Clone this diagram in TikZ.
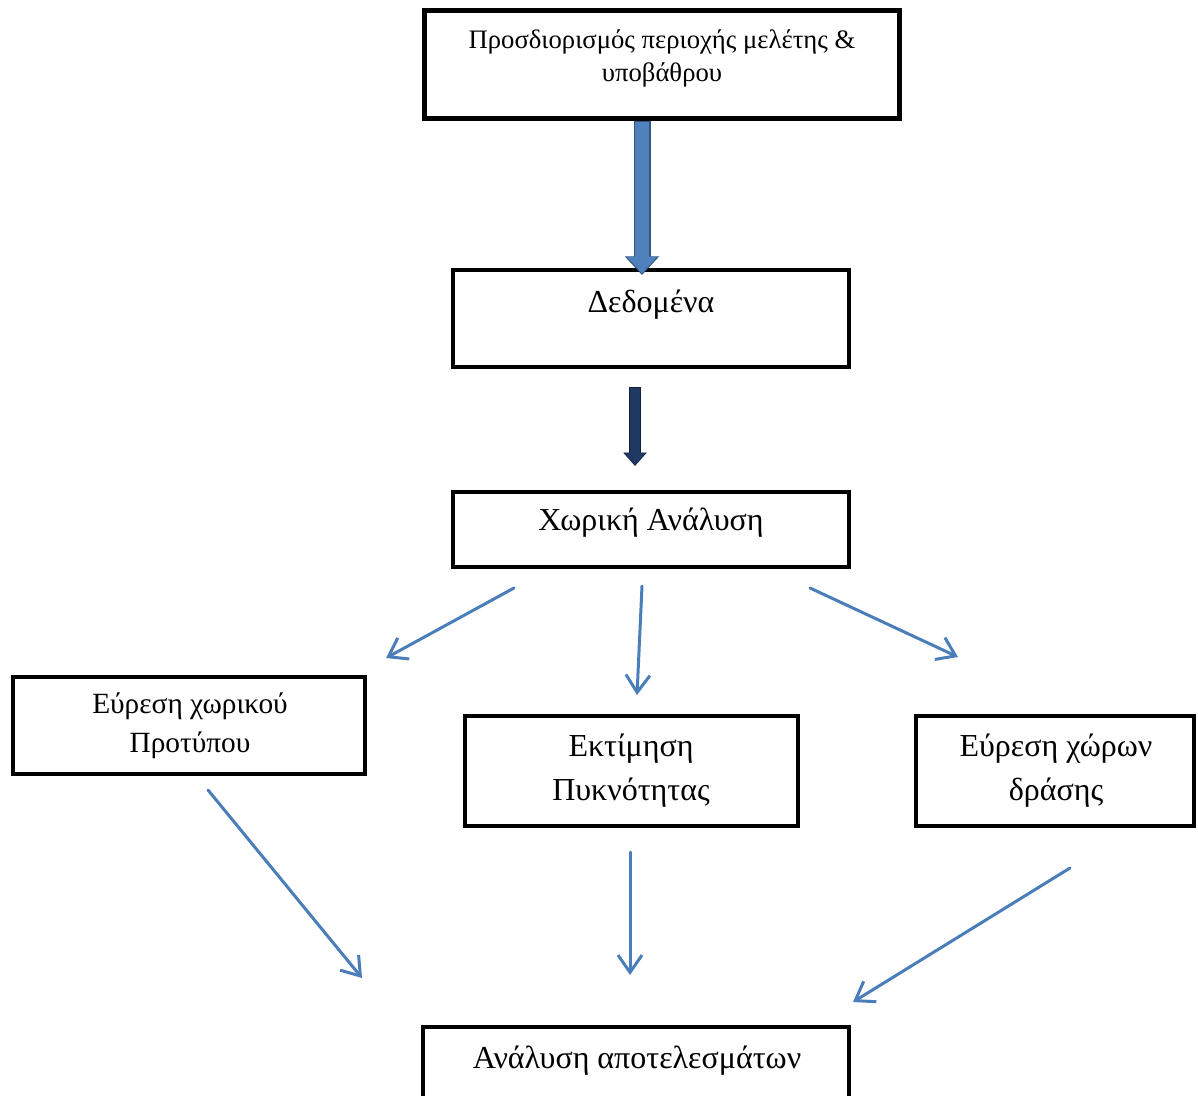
\documentclass[tikz,border=0pt]{standalone}
\usepackage{fontspec}
\setmainfont{Liberation Serif}
\usetikzlibrary{arrows.meta}
\definecolor{thinblue}{RGB}{74,126,187}
\definecolor{fatblue}{RGB}{79,129,189}
\definecolor{fatborder}{RGB}{50,85,130}
\definecolor{navy}{RGB}{31,56,100}
\definecolor{navyborder}{RGB}{18,34,62}
\begin{document}
\begin{tikzpicture}[x=0.75pt,y=-0.75pt,
  box/.style={draw=black, line width=3pt, inner sep=0pt, fill=white},
  txt/.style={align=center, inner sep=0pt, font=\fontsize{24}{31}\selectfont},
  smalltxt/.style={align=center, inner sep=0pt, font=\fontsize{20}{24.75}\selectfont},
  thin/.style={draw=thinblue, line width=2.25pt, line cap=round,
    -{Straight Barb[length=13pt, width=18pt, line width=2.25pt]}}
]
\clip (0,0) rectangle (1198,1095);
\fill[white] (0,0) rectangle (1198,1095);
% boxes
\node[box, line width=3.75pt, minimum width=356.25pt, minimum height=81pt] (b1) at (662,64.5) {};
\node[box, minimum width=297pt, minimum height=72.75pt] (b2) at (651,318.5) {};
\node[box, minimum width=297pt, minimum height=56.25pt] (b3) at (651,529.5) {};
\node[box, minimum width=264pt, minimum height=72.75pt] (b4) at (189,725.5) {};
\node[box, minimum width=249.75pt, minimum height=82.5pt] (b5) at (631.5,771) {};
\node[box, minimum width=208.5pt, minimum height=82.5pt] (b6) at (1055,771) {};
\node[box, minimum width=319.5pt, minimum height=62.25pt] (b7) at (636,1068.5) {};
% texts
\node[smalltxt] (t1) at (662,58) {Προσδιορισμός περιοχής μελέτης \&\\υποβάθρου};
\node[txt] (t2) at (651,305) {Δεδομένα};
\node[txt] (t3) at (651,523) {Χωρική Ανάλυση};
\node[txt, font=\fontsize{22}{29}\selectfont] (t4) at (190,726) {Εύρεση χωρικού\\Προτύπου};
\node[txt, font=\fontsize{24}{33}\selectfont] (t5) at (631,771) {Εκτίμηση\\Πυκνότητας};
\node[txt, font=\fontsize{24}{33}\selectfont] (t6) at (1056,771) {Εύρεση χώρων\\δράσης};
\node[txt] (t7) at (637,1061) {Ανάλυση αποτελεσμάτων};
% block arrows
\coordinate (x1) at (642,0);
\coordinate (a1e) at (642,275);
\draw[fatborder, line width=12.75pt, -{Triangle[width=25pt, length=14pt]}] (b1.south -| x1) -- (a1e);
\draw[fatblue, line width=10pt, shorten >=1.2pt, -{Triangle[width=22pt, length=12.5pt]}] ([yshift=-0.8pt]b1.south -| x1) -- (a1e);
\coordinate (a2s) at (635,387);
\coordinate (a2e) at (635,466);
\draw[navyborder, line width=9pt, -{Triangle[width=17pt, length=10pt]}] (a2s) -- (a2e);
\draw[navy, line width=7.5pt, shorten >=0.8pt, -{Triangle[width=15pt, length=9pt]}] ([yshift=-0.6pt]a2s) -- (a2e);
% thin arrows
\coordinate (c1s) at (514,588); \coordinate (c1e) at (386,658);
\coordinate (c2s) at (642,586); \coordinate (c2e) at (637,695);
\coordinate (c3s) at (810,588); \coordinate (c3e) at (958,657);
\coordinate (c4s) at (208,790); \coordinate (c4e) at (362,978);
\coordinate (c5s) at (630,852); \coordinate (c5e) at (630,975);
\coordinate (c6s) at (1070,868); \coordinate (c6e) at (853,1002);
\draw[thin] (c1s) -- (c1e);
\draw[thin] (c2s) -- (c2e);
\draw[thin] (c3s) -- (c3e);
\draw[thin] (c4s) -- (c4e);
\draw[thin] (c5s) -- (c5e);
\draw[thin] (c6s) -- (c6e);
\end{tikzpicture}
\end{document}
